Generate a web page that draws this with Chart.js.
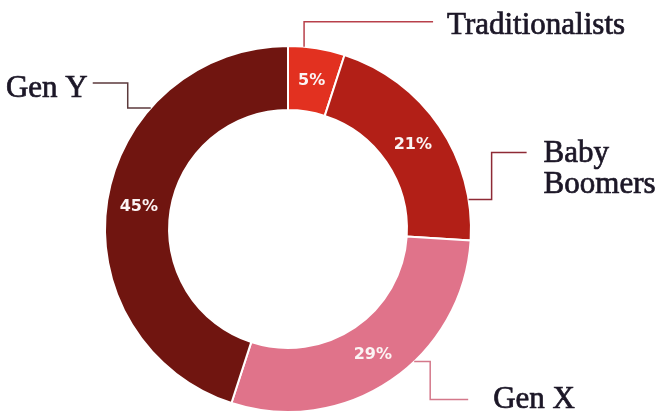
<!DOCTYPE html>
<html>
<head>
<meta charset="utf-8">
<script src="https://cdn.jsdelivr.net/npm/chart.js"></script>
<style>
  html, body { margin: 0; padding: 0; background: #fff; }
  #wrap { width: 660px; height: 416px; position: relative; }
</style>
</head>
<body>
<div id="wrap"><canvas id="donut"></canvas></div>
<script>
// Данные
const labels = ['Traditionalists', 'Baby Boomers', 'Gen X', 'Gen Y'];
const shares = [5, 21, 29, 45];
const sliceColors = ['#E23120', '#B21F17', '#E0738A', '#701510'];

// Выноски: точка на дуге (доля сектора), ломаная от неё, подпись
const leaders = [
    { frac: 0.28, path: [[0, -25], [129, 0]], text: ['Traditionalists'], tx: 14, ty: 12, align: 'left', color: '#B8404A' },
    { frac: 0.83, path: [[23, 0], [0, -47], [35, 0]], text: ['Baby', 'Boomers'], tx: 17, ty: 9, align: 'left', color: '#8E2A35' },
    { frac: 0.41, path: [[16, 0], [0, 38], [38, 0]], text: ['Gen X'], tx: 25, ty: 8, align: 'left', color: '#D4788A' },
    { frac: 0.70, path: [[-23, 0], [0, -25], [-35, 0]], text: ['Gen Y'], tx: -5, ty: 14, align: 'right', color: '#5C3A3C' }
];

// Плагин: проценты внутри сектора и выноски с подписями
const labelPlugin = {
    id: 'donutLabels',
    afterDatasetsDraw(chart) {
        const ctx = chart.ctx;
        const arcs = chart.getDatasetMeta(0).data;
        ctx.save();
        arcs.forEach((arc, i) => {
            // процент
            const pos = arc.tooltipPosition();
            ctx.fillStyle = '#fbf4f4';
            ctx.font = 'bold 16px "DejaVu Sans"';
            ctx.textAlign = 'center';
            ctx.textBaseline = 'middle';
            ctx.fillText(shares[i] + '%', pos.x, pos.y + 1);

            // выноска
            const l = leaders[i];
            const a = arc.startAngle + (arc.endAngle - arc.startAngle) * l.frac;
            let x = arc.x + Math.cos(a) * arc.outerRadius;
            let y = arc.y + Math.sin(a) * arc.outerRadius;
            ctx.strokeStyle = l.color;
            ctx.lineWidth = 1.5;
            ctx.beginPath();
            ctx.moveTo(x, y);
            l.path.forEach(p => {
                x += p[0];
                y += p[1];
                ctx.lineTo(x, y);
            });
            ctx.stroke();

            // подпись (лёгкая обводка — чтобы шрифт был плотнее)
            ctx.fillStyle = '#1c1727';
            ctx.strokeStyle = '#1c1727';
            ctx.lineWidth = 0.7;
            ctx.font = '31px "Liberation Serif"';
            ctx.textAlign = l.align;
            ctx.textBaseline = 'alphabetic';
            l.text.forEach((t, k) => {
                ctx.fillText(t, x + l.tx, y + l.ty + k * 31);
                ctx.strokeText(t, x + l.tx, y + l.ty + k * 31);
            });
        });
        ctx.restore();
    }
};

new Chart(document.getElementById('donut'), {
    type: 'doughnut',
    data: {
        labels: labels,
        datasets: [{
            data: shares,
            backgroundColor: sliceColors,
            borderColor: '#ffffff',
            borderWidth: 2
        }]
    },
    options: {
        responsive: true,
        maintainAspectRatio: false,
        animation: false,
        cutout: '65%',
        layout: { padding: { left: 104, right: 188, top: 45, bottom: 3 } },
        plugins: {
            legend: { display: false },
            tooltip: { enabled: false }
        }
    },
    plugins: [labelPlugin]
});
</script>
</body>
</html>
